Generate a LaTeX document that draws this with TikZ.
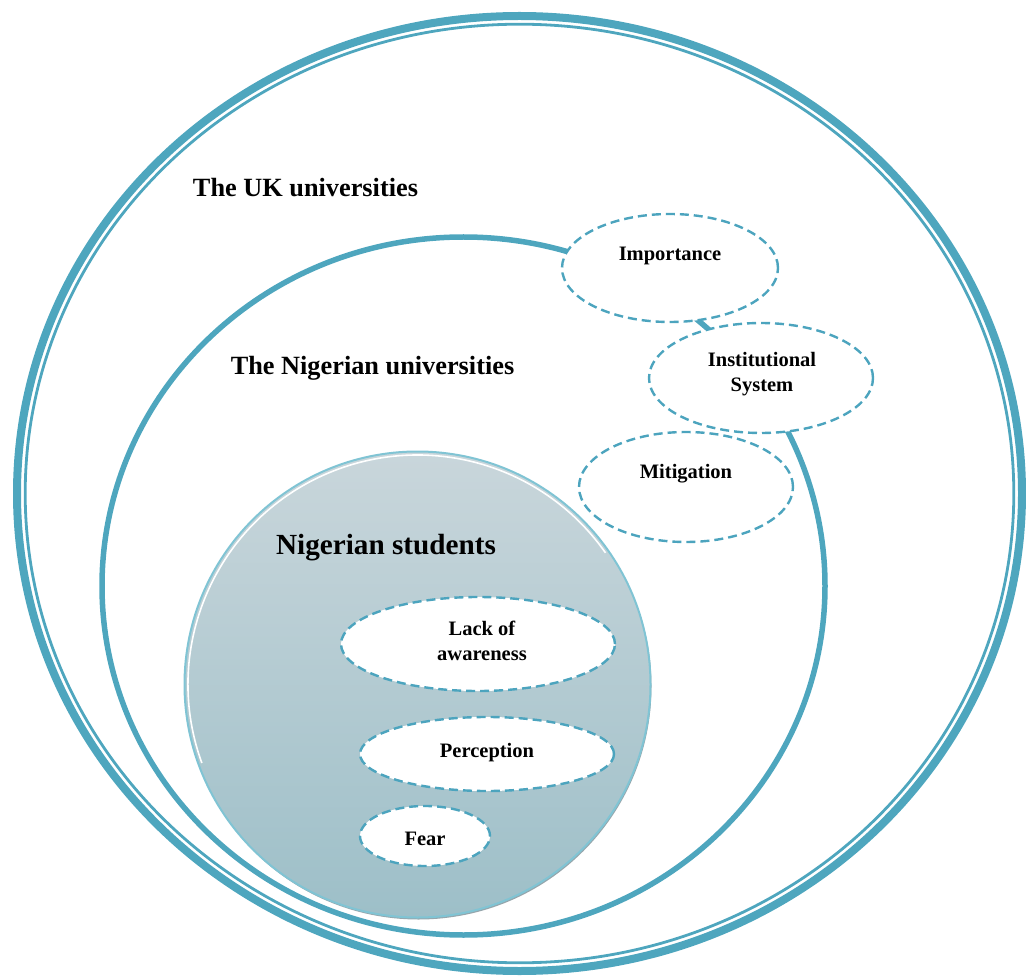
\documentclass[tikz,border=0pt]{standalone}
\usepackage{fontspec}
\setmainfont{Liberation Serif}
\usetikzlibrary{shapes.geometric}
\definecolor{teal1}{RGB}{78,166,190}
\definecolor{dashc}{RGB}{76,164,190}
\definecolor{rimc}{RGB}{128,196,212}
\definecolor{shadc}{RGB}{150,166,172}
\definecolor{topc}{RGB}{201,214,219}
\definecolor{botc}{RGB}{157,191,200}
\tikzset{
  dellipse/.style={ellipse, draw=dashc, line width=2.4pt, dash pattern=on 9pt off 5pt, fill=white, inner sep=0pt},
  bigtext/.style={font=\bfseries\fontsize{26.3}{31}\selectfont, inner sep=0pt},
  studtext/.style={font=\bfseries\fontsize{29.2}{34}\selectfont, inner sep=0pt},
  smalltext/.style={font=\bfseries\fontsize{20.5}{25}\selectfont, align=center, inner sep=0pt},
}
\begin{document}
\begin{tikzpicture}[x=1pt,y=-1pt]
\useasboundingbox (0,0) rectangle (1026,976);
% outer double ellipse (UK universities)
\draw[teal1, line width=8pt] (519.5,493.5) ellipse [x radius=502.5, y radius=477.5];
\draw[teal1, line width=2.8pt] (519.5,493.5) ellipse [x radius=494.3, y radius=469.3];
% inner circle (Nigerian universities)
\draw[teal1, line width=5.5pt] (463.5,586) ellipse [x radius=361.5, y radius=349];
% outer dashed ellipses
\node[dellipse, minimum width=216, minimum height=108] (imp) at (670,268) {};
\node[dellipse, minimum width=224, minimum height=110] (ins) at (761,378) {};
\node[dellipse, minimum width=214, minimum height=110] (mit) at (686,487) {};
% students circle
\fill[shadc] (418.5,686.5) circle [radius=233];
\shade[top color=topc, bottom color=botc] (417.5,684.5) circle [radius=233];
\draw[rimc, line width=2pt] (417.5,684.5) circle [radius=233];
\draw[white, line width=1.6pt] (417.5,684.5) ++(160:229.5) arc [start angle=160, end angle=325, radius=229.5];
% inner dashed ellipses
\node[dellipse, minimum width=274, minimum height=94] (lack) at (478,644) {};
\node[dellipse, minimum width=254, minimum height=74] (per) at (487,754) {};
\node[dellipse, minimum width=130, minimum height=60] (fear) at (425,836) {};
% labels
\node[bigtext] (uk) at (305.5,188) {The UK universities};
\node[bigtext] (ng) at (372.5,368) {The Nigerian universities};
\node[studtext] (st) at (386,548) {Nigerian students};
\node[smalltext] (timp) at (670,256) {Importance};
\node[smalltext] (tins) at (762,374) {Institutional\\System};
\node[smalltext] (tmit) at (686,474) {Mitigation};
\node[smalltext] (tlack) at (482,641) {Lack of\\awareness};
\node[smalltext] (tper) at (487,753) {Perception};
\node[smalltext] (tfear) at (425,839) {Fear};
\end{tikzpicture}
\end{document}
